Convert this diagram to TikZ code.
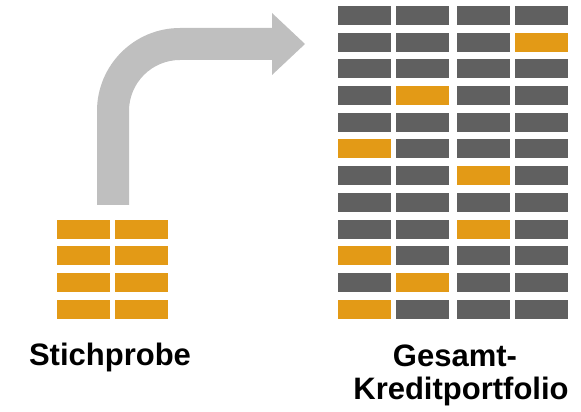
\documentclass[tikz,border=0pt]{standalone}
\usepackage{fontspec}
\setmainfont{Liberation Sans}
\definecolor{cellgray}{HTML}{606060}
\definecolor{cellorange}{HTML}{E39A16}
\definecolor{arrowgray}{HTML}{BFBFBF}
\newcommand{\PortfolioRowStep}{26.7}
\newcommand{\PortfolioTop}{396.5}

\begin{document}
\begin{tikzpicture}[x=1pt, y=1pt,
		cell/.style={fill=cellgray, minimum width=53pt, minimum height=19pt, inner sep=0pt, outer sep=0pt},
		titletext/.style={font=\bfseries\fontsize{31}{33}\selectfont, inner sep=0pt, align=center}]
	\useasboundingbox (0,0) rectangle (581,412);
	% Gesamt-Kreditportfolio
	\foreach \r in {0,...,11} {
		\foreach \c/\x in {1/364.5, 2/422.5, 3/483.5, 4/541.5} {
			\node[cell] (g-\r-\c) at (\x, {\PortfolioTop-\PortfolioRowStep*\r}) {};
		}
	}
	\foreach \r/\c in {1/4, 3/2, 5/1, 6/3, 8/3, 9/1, 10/2, 11/1} {
		\fill[cellorange] (g-\r-\c.south west) rectangle (g-\r-\c.north east);
	}
	% Stichprobe
	\foreach \r in {8,...,11} {
		\foreach \c/\x in {1/83.5, 2/141.5} {
			\node[cell, fill=cellorange] (s-\r-\c) at (\x, {\PortfolioTop-\PortfolioRowStep*\r}) {};
		}
	}
	% Pfeil
	\fill[arrowgray] (97,207) -- (97,301) arc (180:90:83) -- (272,384) -- (272,399)
		-- (305,368) -- (272,337) -- (272,352) -- (180,352) arc (90:180:51) -- (129,207) -- cycle;
	\node[titletext, anchor=base] (sample) at (110,46) {Stichprobe};
	\node[titletext, anchor=base] (portfolio) at (455,45) {Gesamt-};
	\node[titletext, anchor=base] (portfolio2) at (461,12) {Kreditportfolio};
\end{tikzpicture}
\end{document}
